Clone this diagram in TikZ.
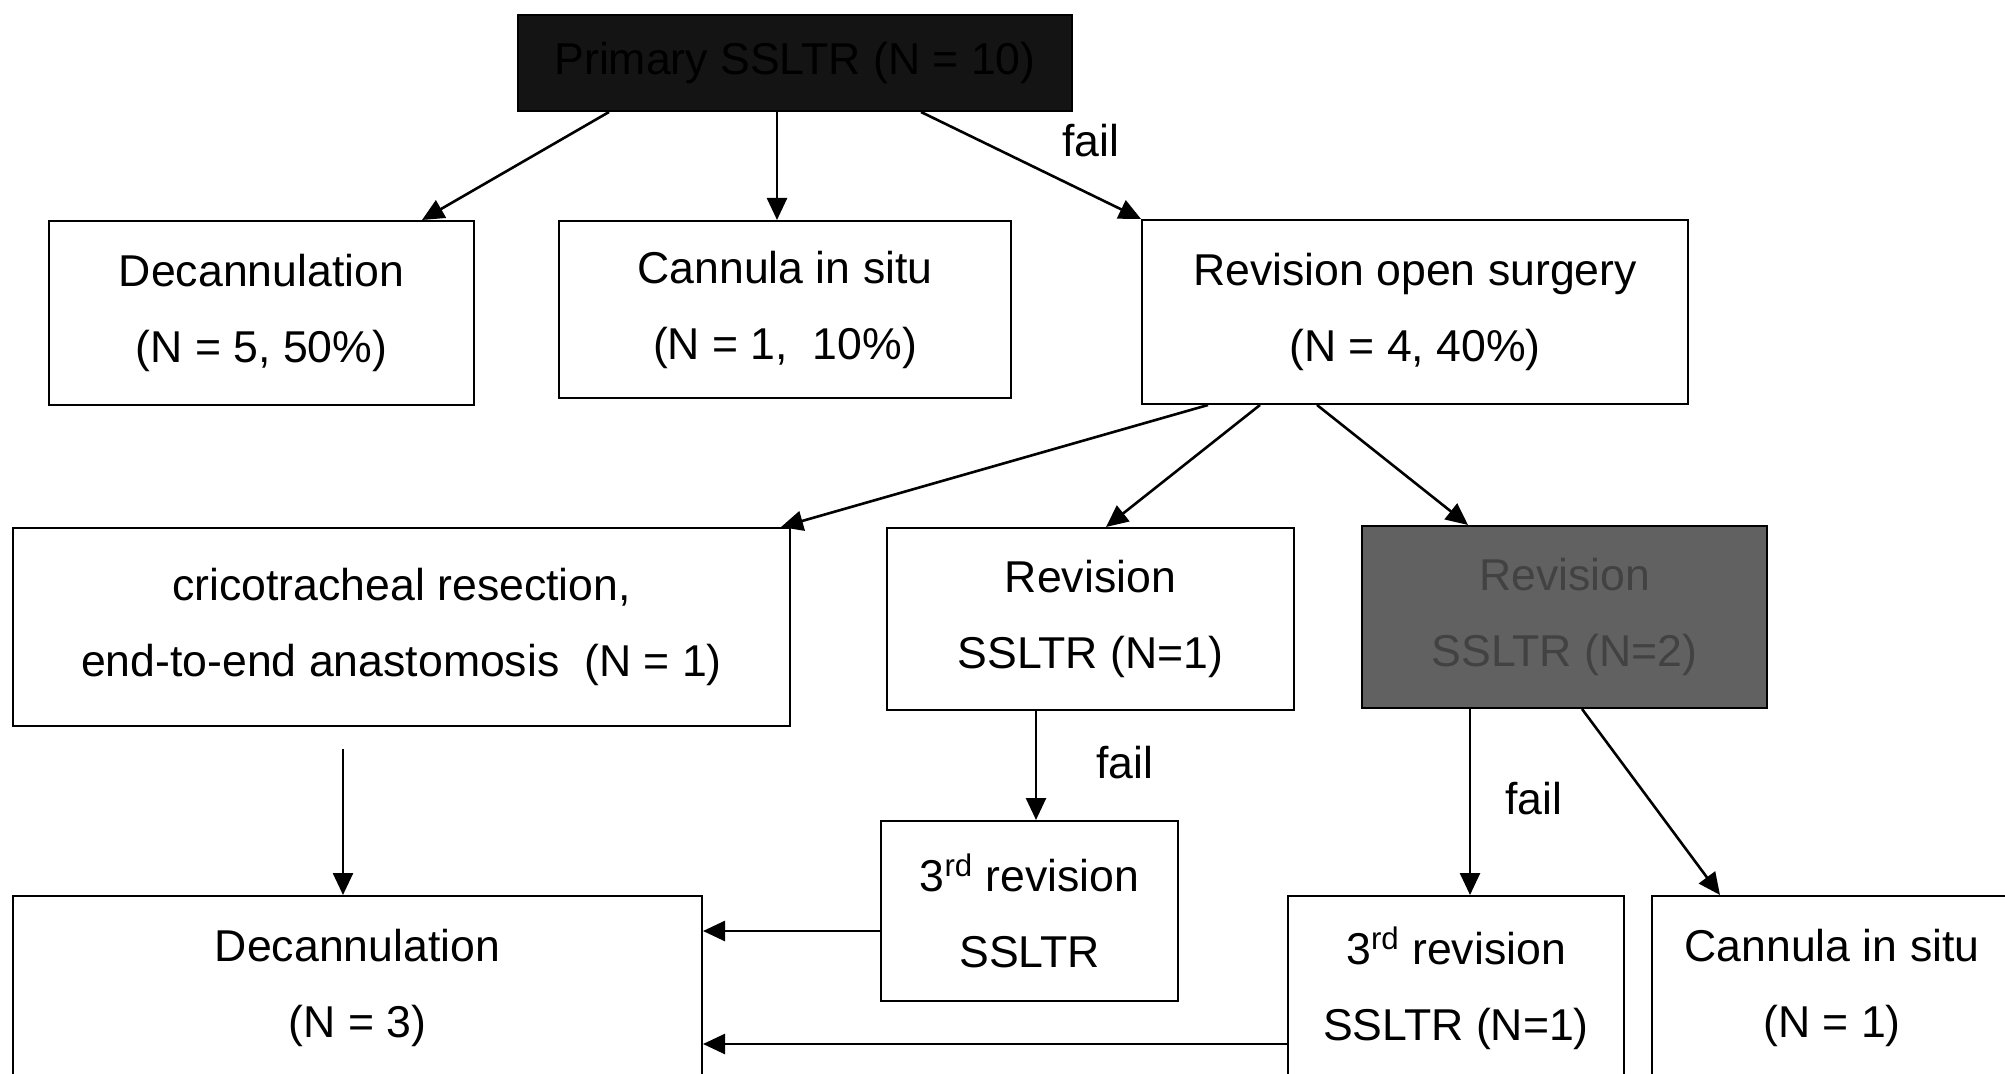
\documentclass[tikz,border=0pt]{standalone}
\usepackage{fontspec}
\setmainfont{Liberation Sans}
\usepackage{tikz}
\usetikzlibrary{arrows.meta}

\begin{document}
\begin{tikzpicture}[
  x=0.5pt, y=-0.5pt,
  box/.style={rectangle, draw=black, line width=1pt, fill=white, align=center, inner sep=0pt, font=\fontsize{22.3}{38}\selectfont},
  darkbox/.style={box, fill=black!92, text=black},
  lbl/.style={font=\fontsize{22.3}{26}\selectfont},
  arrow/.style={-{Triangle[length=11pt,width=10pt]}, line width=1.3pt}
]
\useasboundingbox (0,0) rectangle (2005,1074);
\clip (0,0) rectangle (2005,1074);

\node[darkbox, minimum width=277pt, minimum height=48pt] (start) at (795,63) {Primary SSLTR (N = 10)};
\node[box, minimum width=212.5pt, minimum height=92pt] (dec1) at (261.5,313) {Decannulation\\(N = 5, 50\%)};
\node[box, minimum width=226pt, minimum height=88.5pt] (can1) at (785,309.5) {Cannula in situ\\(N = 1,\ \ 10\%)};
\node[box, minimum width=273pt, minimum height=92pt] (ros) at (1415,312) {Revision open surgery\\(N = 4, 40\%)};
\node[box, minimum width=388.5pt, minimum height=99pt] (ctr) at (401.5,627) {cricotracheal resection,\\end-to-end anastomosis\ \ (N = 1)};
\node[box, minimum width=203.5pt, minimum height=91pt] (rev) at (1090.5,619) {Revision\\SSLTR (N=1)};
\node[darkbox, fill=black!62, text=black!74, minimum width=202.5pt, minimum height=91pt] (revdark) at (1564.5,617) {Revision\\SSLTR (N=2)};
\node[box, minimum width=148.5pt, minimum height=90pt] (rev3a) at (1029.5,911) {3\textsuperscript{rd} revision\\SSLTR};
\node[box, minimum width=344.5pt, minimum height=92pt] (dec2) at (357.5,988) {Decannulation\\(N = 3)};
\node[box, minimum width=168pt, minimum height=92pt] (rev3b) at (1456,988) {3\textsuperscript{rd} revision\\SSLTR (N=1)};
\node[box, minimum width=180pt, minimum height=92pt] (can2) at (1832,988) {Cannula in situ\\(N = 1)};

\node[lbl] (fail1) at (1091,141) {fail};
\node[lbl] (fail2) at (1125,763) {fail};
\node[lbl] (fail3) at (1534,799) {fail};

\draw[arrow] ([xshift=-93pt]start.south) -- ([xshift=80.25pt]dec1.north);
\draw[arrow] ([xshift=-9pt]start.south) -- ([xshift=-4pt]can1.north);
\draw[arrow] ([xshift=63pt]start.south) -- (ros.north west);
\draw[arrow] ([xshift=-103.5pt]ros.south) -- ([xshift=-5pt]ctr.north east);
\draw[arrow] ([xshift=-77.5pt]ros.south) -- ([xshift=7.75pt]rev.north);
\draw[arrow] ([xshift=-49pt]ros.south) -- ([xshift=-48.25pt]revdark.north);
\draw[arrow] ([xshift=-29.25pt,yshift=-11pt]ctr.south) -- ([xshift=-7.25pt]dec2.north);
\draw[arrow] ([xshift=-27.25pt]rev.south) -- ([xshift=3.25pt]rev3a.north);
\draw[arrow] ([yshift=-10pt]rev3a.west) -- ([yshift=28.5pt]dec2.east);
\draw[arrow] ([yshift=-28pt]rev3b.west) -- ([yshift=-28pt]dec2.east);
\draw[arrow] ([xshift=-47.25pt]revdark.south) -- ([xshift=7pt]rev3b.north);
\draw[arrow] ([xshift=8.75pt]revdark.south) -- ([xshift=-56pt]can2.north);
\end{tikzpicture}
\end{document}
